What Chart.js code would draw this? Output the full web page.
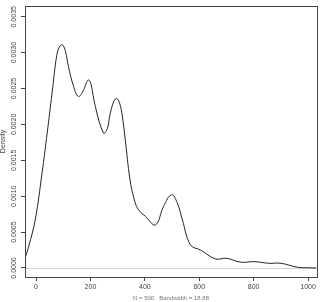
<!DOCTYPE html>
<html>
<head>
<meta charset="utf-8">
<script src="https://cdn.jsdelivr.net/npm/chart.js@4"></script>
<style>
    body { margin: 0; background: #fff; }
    #wrap { width: 322px; height: 302px; }
</style>
</head>
<body>
<div id="wrap"><canvas id="density-chart" width="322" height="302"></canvas></div>
<script>
// Density estimate
const xs = [-39, -27, -3, 22, 41, 59, 76, 86, 97, 108, 119, 138, 156, 175, 185, 193, 202, 218, 248, 262,
    272, 287, 297, 307, 317, 328, 345, 360, 375, 402, 439, 469, 498, 519, 538, 568, 605, 660, 700, 753,
    801, 856, 900, 962, 1000, 1030];
const density = [0.00015, 0.00030, 0.00067, 0.00132, 0.00188, 0.00244, 0.00296, 0.00308, 0.00311, 0.00302,
    0.00281, 0.00253, 0.00239, 0.00248, 0.00258, 0.00262, 0.00256, 0.00225, 0.00188, 0.00194,
    0.00214, 0.00233, 0.00236, 0.00230, 0.00212, 0.00179, 0.00124, 0.00097, 0.00082, 0.00072,
    0.00060, 0.00086, 0.00102, 0.00091, 0.00067, 0.00032, 0.00025, 0.000126, 0.000135, 0.00008,
    0.000088, 0.000065, 0.000065, 0.00001, 0.000003, 0.0000005];

const xTicks = [0, 200, 400, 600, 800, 1000];
const yTicks = [0, 0.0005, 0.0010, 0.0015, 0.0020, 0.0025, 0.0030, 0.0035];
const yTickLabels = ['0.0000', '0.0005', '0.0010', '0.0015', '0.0020', '0.0025', '0.0030', '0.0035'];
const xTitle = 'N = 500   Bandwidth = 18.88';
const yTitle = 'Density';

const points = xs.map((x, i) => ({ x: x, y: density[i] }));

// Box, zero line and the rotated y labels (R style)
const rStyle = {
    id: 'rStyle',
    beforeDatasetsDraw(chart) {
        const { ctx, chartArea: a, scales } = chart;
        const y0 = scales.y.getPixelForValue(0);
        ctx.save();
        ctx.strokeStyle = '#cfcfcf';
        ctx.lineWidth = 1;
        ctx.beginPath();
        ctx.moveTo(a.left, y0 + 0.5);
        ctx.lineTo(a.right, y0 + 0.5);
        ctx.stroke();
        ctx.restore();
    },
    afterDraw(chart) {
        const { ctx, chartArea: a, scales } = chart;
        ctx.save();
        ctx.strokeStyle = '#444';
        ctx.lineWidth = 1;
        ctx.strokeRect(a.left + 0.5, a.top + 0.5, a.right - a.left, a.bottom - a.top);

        ctx.fillStyle = '#444';
        ctx.font = '7px "Liberation Sans", sans-serif';
        ctx.textAlign = 'center';
        ctx.textBaseline = 'middle';
        yTicks.forEach((v, i) => {
            const py = scales.y.getPixelForValue(v);
            ctx.save();
            ctx.translate(14, py);
            ctx.rotate(-Math.PI / 2);
            ctx.fillText(yTickLabels[i], 0, 0);
            ctx.restore();
        });

        ctx.save();
        ctx.translate(3, (a.top + a.bottom) / 2);
        ctx.rotate(-Math.PI / 2);
        ctx.fillText(yTitle, 0, 0);
        ctx.restore();

        ctx.font = '6px "Liberation Sans", sans-serif';
        ctx.fillStyle = '#777';
        ctx.fillText(xTitle, (a.left + a.right) / 2, 298);
        ctx.restore();
    }
};

const densityChart = new Chart(document.getElementById('density-chart').getContext('2d'), {
    type: 'line',
    data: {
        datasets: [{
            data: points,
            borderColor: '#222',
            borderWidth: 1,
            pointRadius: 0,
            fill: false,
            tension: 0.4
        }]
    },
    options: {
        responsive: false,
        animation: false,
        layout: { padding: { top: 6, right: 5 } },
        plugins: { legend: { display: false }, tooltip: { enabled: false } },
        scales: {
            x: {
                type: 'linear',
                min: -40.6,
                max: 1033,
                afterBuildTicks: s => { s.ticks = xTicks.map(v => ({ value: v })); },
                afterFit: s => { s.height = 25; },
                grid: { drawOnChartArea: false, tickLength: 4, color: '#444' },
                border: { display: false },
                ticks: {
                    color: '#444',
                    padding: 2,
                    maxRotation: 0,
                    font: { family: 'Liberation Sans', size: 7 },
                    callback: v => String(v)
                }
            },
            y: {
                min: -0.000126,
                max: 0.00365,
                afterBuildTicks: s => { s.ticks = yTicks.map(v => ({ value: v })); },
                afterFit: s => { s.width = 25; },
                grid: { drawOnChartArea: false, tickLength: 4, color: '#444' },
                border: { display: false },
                ticks: { display: false }
            }
        }
    },
    plugins: [rStyle]
});
</script>
</body>
</html>
